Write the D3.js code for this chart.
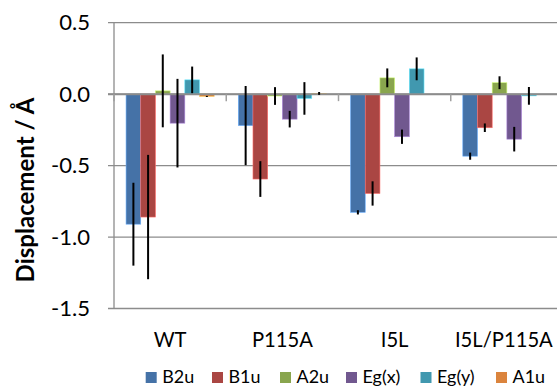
<!DOCTYPE html>
<html><head><meta charset="utf-8">
<script src="https://cdn.jsdelivr.net/npm/d3@7"></script>
<style>body{margin:0;background:#fff}svg{display:block}text{font-family:Lato,"Liberation Sans",sans-serif;fill:#000}</style>
</head><body><svg id="c" width="557" height="387"></svg>
<script>
const categories = ["WT","P115A","I5L","I5L/P115A"];
const series = ["B2u","B1u","A2u","Eg(x)","Eg(y)","A1u"];
const colors = ["#4572A7","#AA4643","#89A54E","#71588F","#4198AF","#DB843D"];
// values per series, one per category
const B2u = [-0.91,-0.22,-0.827,-0.434];
const B1u = [-0.86,-0.594,-0.695,-0.235];
const A2u = [0.023,-0.013,0.114,0.08];
const Egx = [-0.203,-0.175,-0.298,-0.315];
const Egy = [0.10,-0.03,0.177,-0.012];
const A1u = [-0.016,0.005,0,0];
const B2uErr = [0.29,0.277,0.015,0.025];
const B1uErr = [0.435,0.125,0.085,0.03];
const A2uErr = [0.255,0.062,0.066,0.045];
const EgxErr = [0.31,0.058,0.05,0.086];
const EgyErr = [0.093,0.114,0.08,0.062];
const A1uErr = [0.004,0.01,0,0];
const yTicks = [0.5,0.0,-0.5,-1.0,-1.5];

const values = [B2u,B1u,A2u,Egx,Egy,A1u];
const errs = [B2uErr,B1uErr,A2uErr,EgxErr,EgyErr,A1uErr];

const svg = d3.select("#c");
const x = d3.scaleBand().domain(categories).range([114,563]);
const xs = d3.scaleBand().domain(series).range([0,x.bandwidth()]).paddingOuter(0.82);
const y = d3.scaleLinear().domain([-1.5,0.5]).range([308.5,22.7]);

// fit font size so a sample string reaches a target width
function fitSize(sample, target, weight){
  const t = svg.append("text").attr("font-size",20).attr("font-weight",weight||"normal").text(sample);
  const w = t.node().getComputedTextLength();
  t.remove();
  return 20*target/w;
}
const tickFs = fitSize("-1.5", 39);
const catFs = fitSize("P115A", 61);
const legFs = fitSize("B2u", 32);
const titleFs = fitSize("Displacement / Å", 185, "bold");

// gridlines
svg.append("g").selectAll("line").data(yTicks).join("line")
  .attr("x1",108).attr("x2",563).attr("y1",d=>y(d)).attr("y2",d=>y(d))
  .attr("stroke","#8c8c8c").attr("stroke-width",1.3);
// y axis line
svg.append("line").attr("x1",114).attr("x2",114).attr("y1",y(0.5)).attr("y2",y(-1.5))
  .attr("stroke","#8c8c8c").attr("stroke-width",1.3);
// tick labels
svg.append("g").selectAll("text").data(yTicks).join("text")
  .attr("x",90).attr("y",d=>y(d)).attr("dy","0.34em").attr("text-anchor","end")
  .attr("font-size",tickFs).text(d=>d3.format(".1f")(d).replace("−","-"));

// bars
const data = [];
series.forEach((s,i)=>categories.forEach((c,j)=>data.push({s,c,v:values[i][j],e:errs[i][j],col:colors[i]})));
svg.append("g").selectAll("rect").data(data).join("rect")
  .attr("x",d=>x(d.c)+xs(d.s)).attr("width",xs.bandwidth())
  .attr("y",d=>Math.min(y(d.v),y(0))).attr("height",d=>Math.abs(y(d.v)-y(0)))
  .attr("fill",d=>d.col).attr("stroke",d=>d3.color(d.col).brighter(1.2)).attr("stroke-width",0.6);

// zero axis
svg.append("line").attr("x1",108).attr("x2",563).attr("y1",y(0)).attr("y2",y(0))
  .attr("stroke","#8c8c8c").attr("stroke-width",2);
svg.append("g").selectAll("line").data(categories).join("line")
  .attr("x1",d=>x(d)).attr("x2",d=>x(d)).attr("y1",y(0)).attr("y2",y(0)+7)
  .attr("stroke","#a0a0a0").attr("stroke-width",1.5);

// error bars
svg.append("g").selectAll("line").data(data.filter(d=>d.e>0)).join("line")
  .attr("x1",d=>x(d.c)+xs(d.s)+xs.bandwidth()/2).attr("x2",d=>x(d.c)+xs(d.s)+xs.bandwidth()/2)
  .attr("y1",d=>y(d.v+d.e)).attr("y2",d=>y(d.v-d.e))
  .attr("stroke","#000").attr("stroke-width",2);

// category labels
svg.append("g").selectAll("text").data(categories).join("text")
  .attr("x",d=>x(d)+x.bandwidth()/2+(d==="I5L/P115A"?-3:0)).attr("y",340).attr("dy","0.35em")
  .attr("text-anchor","middle").attr("font-size",catFs).text(d=>d);

// y title
svg.append("text").attr("transform","translate(26,190) rotate(-90)").attr("text-anchor","middle")
  .attr("dy","0.35em").attr("font-size",titleFs).attr("font-weight","bold").text("Displacement / Å");

// legend
const legX = [145.7,212,280,346,420.5,496];
const lg = svg.append("g").selectAll("g").data(series).join("g")
  .attr("transform",(d,i)=>`translate(${legX[i]},377.5)`);
lg.append("rect").attr("x",0).attr("y",-5.5).attr("width",11).attr("height",11).attr("fill",(d,i)=>colors[i]);
lg.append("text").attr("x",16.5).attr("dy","0.33em").attr("font-size",legFs).text(d=>d);
</script></body></html>
